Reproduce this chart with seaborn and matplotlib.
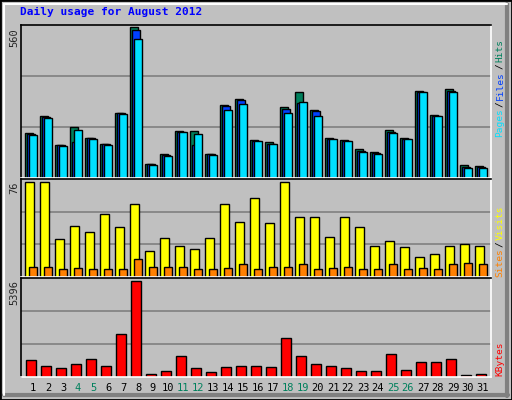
import numpy as np
import pandas as pd
import matplotlib
matplotlib.use('Agg')
import matplotlib.pyplot as plt
import seaborn as sns

sns.set_style('white')
plt.rcParams['font.family'] = ['DejaVu Sans Mono']

days = list(range(1, 32))
weekend = [4, 5, 11, 12, 18, 19, 25, 26]

hits = [168, 231, 123, 190, 149, 127, 243, 560, 53, 91, 174, 174, 91, 272, 295,
        140, 132, 265, 321, 253, 147, 140, 106, 98, 178, 147, 325, 234, 329, 49, 45]
files = [164, 228, 121, 134, 148, 125, 241, 551, 51, 86, 172, 121, 89, 268, 291,
         138, 128, 257, 280, 249, 146, 138, 101, 94, 170, 146, 321, 232, 322, 42, 41]
pages = [160, 224, 119, 179, 146, 123, 239, 517, 49, 83, 170, 162, 87, 253, 276,
         136, 125, 242, 284, 231, 144, 136, 98, 91, 166, 144, 318, 231, 318, 38, 38]
visits = [76, 76, 30, 41, 36, 50, 40, 58, 21, 31, 25, 22, 31, 58, 44,
          63, 43, 76, 48, 48, 32, 48, 40, 25, 29, 24, 16, 18, 25, 26, 25]
sites = [8, 8, 6, 7, 6, 6, 6, 14, 8, 8, 8, 6, 6, 7, 10,
         6, 8, 8, 10, 6, 7, 8, 6, 6, 10, 6, 7, 6, 10, 11, 10]
kbytes = [965, 610, 492, 729, 1024, 610, 2442, 5396, 197, 315, 1201, 492, 256, 551, 610,
          610, 551, 2206, 1201, 729, 610, 492, 315, 315, 1319, 374, 847, 847, 1024, 138, 197]

BG = '#C0C0C0'
C_HITS, C_FILES, C_PAGES = '#00805C', '#0040FF', '#00E0FF'
C_VISITS, C_SITES, C_KB = '#FFFF00', '#FF8000', '#FF0000'

W, H = 512, 400
fig = plt.figure(figsize=(W / 100, H / 100), dpi=100, facecolor=BG)


def px_axes(x0, y0, x1, y1):
    return fig.add_axes([x0 / W, 1 - y1 / H, (x1 - x0) / W, (y1 - y0) / H])


x = np.array(days, dtype=float)
ax1 = px_axes(21, 25, 491, 178)
ax2 = px_axes(21, 179, 491, 277)
ax3 = px_axes(21, 278, 491, 377)

bw = 0.53
for vals, off, col in [(hits, -0.4, C_HITS), (files, -0.27, C_FILES), (pages, -0.13, C_PAGES)]:
    ax1.bar(x + off, vals, width=bw, align='edge', color=col, edgecolor='black', linewidth=1)
ax1.set_ylim(0, 560 * 1.015)

ax2.bar(x - 0.4, visits, width=0.57, align='edge', color=C_VISITS, edgecolor='black', linewidth=1)
ax2.bar(x - 0.13, sites, width=0.5, align='edge', color=C_SITES, edgecolor='black', linewidth=1)
ax2.set_ylim(0, 76 * 1.03)

df = pd.DataFrame({'day': x, 'kbytes': kbytes})
sns.barplot(data=df, x='day', y='kbytes', native_scale=True, width=0.7,
            color=C_KB, saturation=1, edgecolor='black', linewidth=1, ax=ax3)
ax3.set_ylim(0, 5396 * 1.035)

for ax in (ax1, ax2, ax3):
    ax.set_facecolor(BG)
    ax.set_xlim(1 - 0.667, 31 + 0.667)
    top = ax.get_ylim()[1]
    for g in (top / 3, 2 * top / 3):
        ax.axhline(g, color='#808080', linewidth=1.2, zorder=0)
    ax.set_xticks([])
    ax.set_yticks([])
    ax.set_xlabel('')
    ax.set_ylabel('')
    for s in ax.spines.values():
        s.set_color('black')
        s.set_linewidth(1.2)
        s.set_visible(True)
    ax.spines['right'].set_color('white')
    ax.spines['bottom'].set_color('white')

for d in days:
    xf = (31 + 15 * (d - 1) + 2) / W
    fig.text(xf, 1 - 388 / H, str(d), ha='center', va='center', fontsize=7.5,
             color=C_HITS if d in weekend else 'black')

fig.text(20 / W, 1 - 12 / H, 'Daily usage for August 2012', color='#0000FF',
         fontsize=8, fontweight='bold', ha='left', va='center')

for label, ytop in [('560', 28), ('76', 181), ('5396', 280)]:
    fig.text(14 / W, 1 - ytop / H, label, rotation=90, ha='center', va='top', fontsize=7.5)

renderer = fig.canvas.get_renderer()


def right_label(parts, ybottom):
    y = ybottom
    for txt, col in parts:
        t = fig.text(500 / W, 1 - y / H, txt, rotation=90, ha='center', va='bottom',
                     fontsize=6.8, color=col)
        y -= t.get_window_extent(renderer).height + 1.5


right_label([('Pages', C_PAGES), ('/', 'black'), ('Files', C_FILES), ('/', 'black'), ('Hits', C_HITS)], 137)
right_label([('Sites', C_SITES), ('/', 'black'), ('Visits', C_VISITS)], 277)
right_label([('KBytes', C_KB)], 376)

# outer border with bevel
fig.add_artist(plt.Rectangle((0, 0), 1, 1, transform=fig.transFigure, fill=False,
                             edgecolor='black', linewidth=2))
fig.add_artist(plt.Line2D([1 - 5 / W, 1 - 5 / W], [4 / H, 1 - 4 / H], transform=fig.transFigure,
                          color='#808080', linewidth=3))
fig.add_artist(plt.Line2D([4 / W, 1 - 4 / W], [5 / H, 5 / H], transform=fig.transFigure,
                          color='#808080', linewidth=3))
fig.add_artist(plt.Line2D([4 / W, 4 / W], [5 / H, 1 - 4 / H], transform=fig.transFigure,
                          color='white', linewidth=1.5))
fig.add_artist(plt.Line2D([4 / W, 1 - 5 / W], [1 - 4 / H, 1 - 4 / H], transform=fig.transFigure,
                          color='white', linewidth=1.5))

fig.savefig('out.png', dpi=100, facecolor=BG)
